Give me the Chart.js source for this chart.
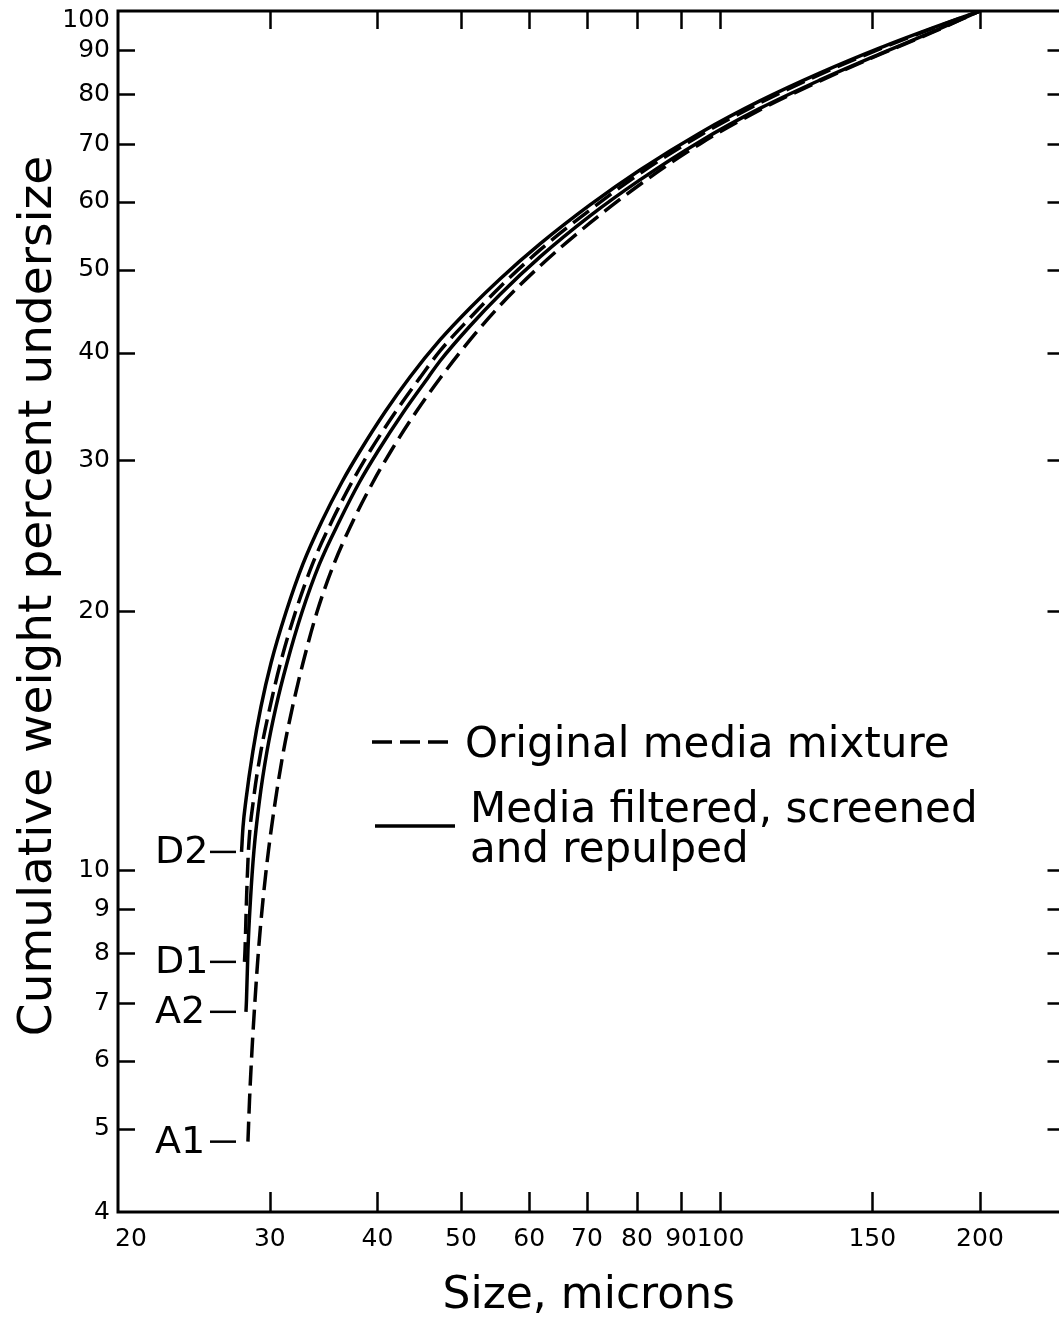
<!DOCTYPE html>
<html>
<head>
<meta charset="utf-8">
<script src="https://cdn.jsdelivr.net/npm/chart.js@4.4.0/dist/chart.umd.min.js"></script>
<style>
  html, body { margin: 0; padding: 0; background: #fff; overflow: hidden; }
  #wrap { width: 1080px; height: 1322px; }
</style>
</head>
<body>
<div id="wrap"><canvas id="chart" width="1080" height="1322"></canvas></div>
<script>
// Axis tick values
const sizeTicks = [20, 30, 40, 50, 60, 70, 80, 90, 100, 150, 200];
const percentTicks = [4, 5, 6, 7, 8, 9, 10, 20, 30, 40, 50, 60, 70, 80, 90, 100];

// Curve names, in dataset order
const curveNames = ['A1', 'A2', 'D1', 'D2'];

// A1 - original media mixture (dashed)
const a1Size = [28.30, 28.42, 28.61, 28.84, 29.11, 29.46, 29.90, 30.46, 31.12, 31.88, 32.78, 34.03, 35.61, 37.47, 39.53, 41.47, 44.34, 47.40, 51.22, 55.49, 61.75, 70.57, 80.65, 94.67, 111.1, 130.5, 153.1, 175.0, 200];
const a1Pct  = [4.83, 5.40, 6.18, 7.06, 8.07, 9.23, 10.55, 12.07, 13.76, 15.49, 17.42, 19.97, 22.72, 25.49, 28.30, 30.75, 34.14, 37.50, 41.41, 45.42, 50.49, 56.66, 62.82, 70.03, 76.71, 82.91, 89.01, 94.17, 100];

// A2 - media filtered, screened and repulped (solid)
const a2Size = [28.15, 28.19, 28.30, 28.49, 28.76, 29.19, 29.78, 30.50, 31.41, 32.70, 34.26, 36.14, 38.13, 40.06, 42.88, 45.84, 47.27, 51.22, 55.49, 61.75, 70.57, 80.65, 94.67, 111.1, 130.5, 153.1, 175.0, 200];
const a2Pct  = [6.84, 7.06, 8.07, 9.23, 10.55, 12.07, 13.76, 15.49, 17.42, 19.97, 22.72, 25.49, 28.30, 30.75, 34.14, 37.50, 39.14, 42.99, 46.78, 51.73, 57.74, 63.59, 70.50, 77.02, 83.13, 89.13, 94.29, 100];

// D1 - original media mixture (dashed)
const d1Size = [28.04, 28.08, 28.19, 28.34, 28.72, 29.30, 30.02, 30.87, 32.13, 33.63, 35.42, 37.37, 39.21, 41.97, 44.87, 47.27, 51.22, 55.49, 61.75, 70.57, 80.65, 94.67, 111.1, 130.5, 153.1, 175.0, 200];
const d1Pct  = [7.82, 8.07, 9.23, 10.55, 12.07, 13.76, 15.49, 17.42, 19.97, 22.72, 25.49, 28.30, 30.75, 34.14, 37.50, 40.21, 43.93, 47.73, 52.71, 58.67, 64.70, 71.64, 78.16, 84.37, 90.33, 95.18, 100];

// D2 - media filtered, screened and repulped (solid)
const d2Size = [27.82, 27.93, 28.15, 28.68, 29.30, 30.10, 31.33, 32.78, 34.49, 36.38, 38.18, 40.81, 43.63, 47.27, 51.22, 55.49, 61.75, 70.57, 80.65, 94.67, 111.1, 130.5, 153.1, 175.0, 200];
const d2Pct  = [10.50, 11.23, 12.07, 13.76, 15.49, 17.42, 19.97, 22.72, 25.49, 28.30, 30.75, 34.14, 37.50, 41.41, 45.12, 48.77, 53.56, 59.46, 65.31, 72.12, 78.58, 84.71, 90.58, 95.31, 100];

// Legend entries (dashed first, then solid)
const legendLabels = [['Original media mixture'], ['Media filtered, screened', 'and repulped']];
const xTitle = 'Size, microns';
const yTitle = 'Cumulative weight percent undersize';

const FONT = '"DejaVu Sans", sans-serif';
const DASH = [20, 8];

function toPoints(xs, ys) {
  return xs.map((x, i) => ({ x: x, y: ys[i] }));
}

const series = [
  { name: curveNames[0], data: toPoints(a1Size, a1Pct), dashed: true },
  { name: curveNames[1], data: toPoints(a2Size, a2Pct), dashed: false },
  { name: curveNames[2], data: toPoints(d1Size, d1Pct), dashed: true },
  { name: curveNames[3], data: toPoints(d2Size, d2Pct), dashed: false }
];

// Frame, inward ticks, tick labels, titles, curve tags and legend
const decorations = {
  id: 'decorations',
  afterDraw(chart) {
    const ctx = chart.ctx;
    const area = chart.chartArea;
    const xs = chart.scales.x;
    const ys = chart.scales.y;
    ctx.save();
    ctx.strokeStyle = '#000';
    ctx.fillStyle = '#000';

    // frame
    ctx.lineWidth = 3;
    ctx.strokeRect(area.left, area.top, area.right - area.left, area.bottom - area.top);

    // percent ticks on left and right edges
    ctx.lineWidth = 2.5;
    percentTicks.forEach(v => {
      if (v === percentTicks[0] || v === percentTicks[percentTicks.length - 1]) return;
      const py = Math.round(ys.getPixelForValue(v)) + 0.5;
      ctx.beginPath();
      ctx.moveTo(area.left, py); ctx.lineTo(area.left + 17, py);
      ctx.moveTo(area.right, py); ctx.lineTo(area.right - 16, py);
      ctx.stroke();
    });
    // size ticks on bottom and top edges
    sizeTicks.forEach(v => {
      if (v === sizeTicks[0]) return;
      const px = Math.round(xs.getPixelForValue(v)) + 0.5;
      ctx.beginPath();
      ctx.moveTo(px, area.bottom); ctx.lineTo(px, area.bottom - 20);
      ctx.moveTo(px, area.top); ctx.lineTo(px, area.top + 18);
      ctx.stroke();
    });

    // tick labels
    ctx.font = '25px ' + FONT;
    ctx.textAlign = 'right';
    ctx.textBaseline = 'middle';
    percentTicks.forEach(v => {
      const py = Math.max(ys.getPixelForValue(v), area.top + 9);
      ctx.fillText(String(v), area.left - 8, py);
    });
    ctx.textAlign = 'center';
    sizeTicks.forEach(v => {
      const label = String(v);
      const w = ctx.measureText(label).width;
      const px = Math.max(xs.getPixelForValue(v), area.left - 3 + w / 2);
      ctx.fillText(label, px, area.bottom + 27);
    });

    // axis titles
    ctx.font = '44px ' + FONT;
    ctx.textBaseline = 'alphabetic';
    ctx.textAlign = 'center';
    ctx.fillText(xTitle, (area.left + area.right) / 2 - 2, area.bottom + 96);
    ctx.save();
    ctx.font = '47px ' + FONT;
    ctx.translate(51, 596);
    ctx.rotate(-Math.PI / 2);
    ctx.fillText(yTitle, 0, 0);
    ctx.restore();

    // curve tags at the start of each curve
    ctx.font = '38px ' + FONT;
    ctx.textAlign = 'left';
    ctx.textBaseline = 'middle';
    ctx.lineWidth = 2.5;
    chart.data.datasets.forEach(ds => {
      const py = ys.getPixelForValue(ds.data[0].y);
      ctx.fillText(ds.label, area.left + 37, py + 1);
      ctx.beginPath();
      ctx.moveTo(area.left + 92, py);
      ctx.lineTo(area.left + 118, py);
      ctx.stroke();
    });

    // legend
    const lx = area.left + 254;
    const tx = area.left + 347;
    ctx.font = '42px ' + FONT;
    ctx.textBaseline = 'alphabetic';
    ctx.lineWidth = 3.5;
    // dashed entry
    ctx.setLineDash(DASH);
    ctx.beginPath();
    ctx.moveTo(lx, 742); ctx.lineTo(lx + 82, 742);
    ctx.stroke();
    ctx.setLineDash([]);
    ctx.fillText(legendLabels[0][0], tx, 757);
    // solid entry
    ctx.beginPath();
    ctx.moveTo(lx + 3, 826); ctx.lineTo(lx + 83, 826);
    ctx.stroke();
    ctx.fillText(legendLabels[1][0], tx + 5, 822);
    ctx.fillText(legendLabels[1][1], tx + 5, 862);

    ctx.restore();
  }
};

new Chart(document.getElementById('chart'), {
  type: 'scatter',
  data: {
    datasets: series.map(s => ({
      label: s.name,
      data: s.data,
      showLine: true,
      borderColor: '#000',
      backgroundColor: '#000',
      borderWidth: 3.5,
      borderDash: s.dashed ? DASH : [],
      pointRadius: 0,
      cubicInterpolationMode: 'monotone',
      fill: false
    }))
  },
  options: {
    responsive: false,
    animation: false,
    devicePixelRatio: 1,
    layout: { padding: { left: 118, top: 11, right: 16.5, bottom: 110 } },
    plugins: { legend: { display: false }, tooltip: { enabled: false } },
    scales: {
      x: { type: 'logarithmic', min: 20, max: 250, display: false },
      y: { type: 'logarithmic', min: 4, max: 100, display: false }
    }
  },
  plugins: [decorations]
});
</script>
</body>
</html>
